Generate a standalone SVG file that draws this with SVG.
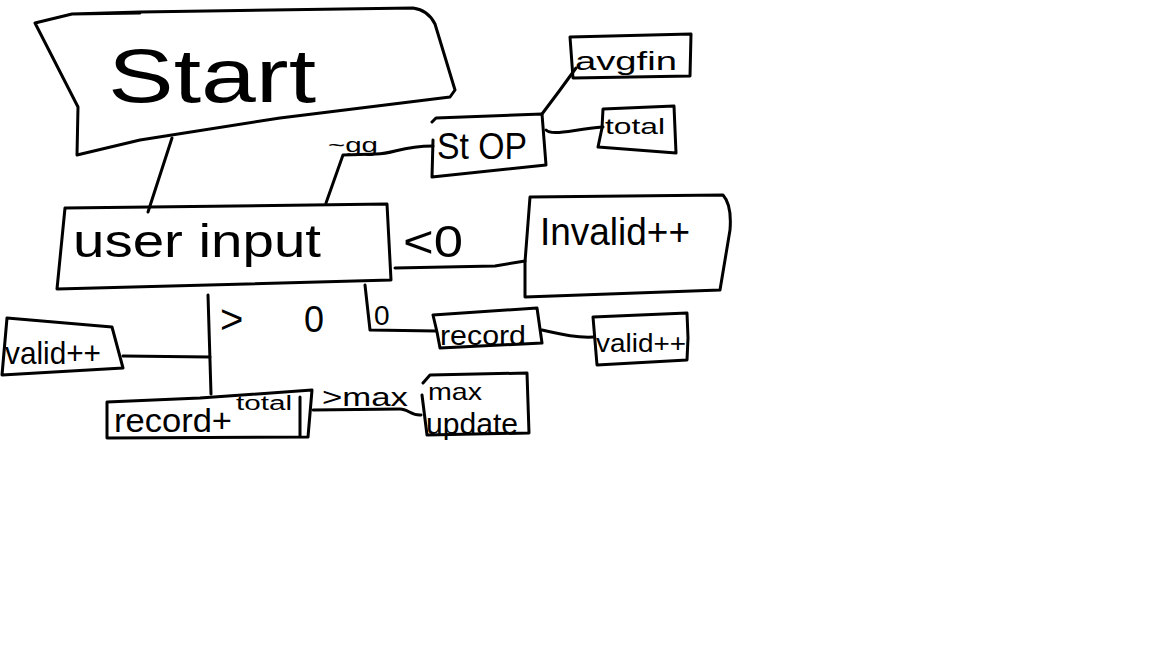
<svg xmlns="http://www.w3.org/2000/svg" width="1152" height="648" viewBox="0 0 1152 648">
<style>
.s{fill:none;stroke:#000;stroke-width:3;stroke-linecap:round;stroke-linejoin:round}
.t{font-family:"Liberation Sans",Arial,sans-serif;fill:#000}
</style>
<rect width="1152" height="648" fill="#fff"/>
<g id="connectors">
<path class="s" d="M172,138 L148,212"/>
<path class="s" d="M326,203 L343,155 L376,154 C395,154 400,146 433,146"/>
<path class="s" d="M542,114 L560,90 L576,68"/>
<path class="s" d="M546,130 C552,136 570,130 603,127"/>
<path class="s" d="M395,268 L495,266 L525,261"/>
<path class="s" d="M365,285 L370,330 L436,331"/>
<path class="s" d="M542,330 C560,334 575,338 594,337"/>
<path class="s" d="M208,295 L211,394"/>
<path class="s" d="M123,356 L210,357"/>
<path class="s" d="M313,410 L400,409 C408,409 412,416 421,415"/>
</g>
<g id="start">
<path class="s" d="M72,14 L140,12 L413,8 Q428,10 435,24 L455,90 L450,97 L280,118 L140,140 L77,155 L78,107 L35,23 L72,14 L140,13"/>
<text class="t" x="108" y="102" font-size="76" textLength="208" lengthAdjust="spacingAndGlyphs">Start</text>
</g>
<g id="user-input">
<path class="s" d="M65,208 L387,204 L391,280 L57,289 Z"/>
<text class="t" x="73" y="257" font-size="46" textLength="248" lengthAdjust="spacingAndGlyphs">user input</text>
</g>
<g id="label-gg">
<text class="t" x="328" y="152" font-size="20" textLength="50" lengthAdjust="spacingAndGlyphs">~gg</text>
</g>
<g id="stop">
<path class="s" d="M432,122 L436,118 L542,114 L546,165 L432,177 L433,140"/>
<text class="t" x="437" y="159" font-size="36" textLength="90" lengthAdjust="spacingAndGlyphs">St OP</text>
</g>
<g id="avgfin">
<path class="s" d="M570,37 L691,34 L690,76 L573,78 Z"/>
<text class="t" x="575" y="70" font-size="26" textLength="102" lengthAdjust="spacingAndGlyphs">avgfin</text>
</g>
<g id="total">
<path class="s" d="M603,109 L674,106 L676,153 L598,147 L602,128 Z"/>
<text class="t" x="605" y="134" font-size="22" textLength="60" lengthAdjust="spacingAndGlyphs">total</text>
</g>
<g id="label-lt0">
<text class="t" x="403" y="257" font-size="44" textLength="60" lengthAdjust="spacingAndGlyphs">&lt;0</text>
</g>
<g id="invalid">
<path class="s" d="M530,197 L723,195 Q732,205 730,230 L720,290 L525,297 L525,262 Z"/>
<text class="t" x="540" y="245" font-size="38" textLength="150" lengthAdjust="spacingAndGlyphs">Invalid++</text>
</g>
<g id="label-0">
<text class="t" x="374" y="325" font-size="28">0</text>
</g>
<g id="record">
<path class="s" d="M433,315 L537,308 L542,343 L440,348 L437,332 Z"/>
<text class="t" x="440" y="345" font-size="28" textLength="86" lengthAdjust="spacingAndGlyphs">record</text>
</g>
<g id="valid-right">
<path class="s" d="M593,317 L687,313 L688,338 L687,360 L597,365 Z"/>
<text class="t" x="596" y="352" font-size="26" textLength="90" lengthAdjust="spacingAndGlyphs">valid++</text>
</g>
<g id="label-gt0">
<text class="t" x="220" y="333" font-size="40">&gt;</text>
<text class="t" x="304" y="332" font-size="36">0</text>
</g>
<g id="valid-left">
<path class="s" d="M7,318 L112,327 L123,368 L2,375 Z"/>
<text class="t" x="5" y="364" font-size="32" textLength="96" lengthAdjust="spacingAndGlyphs">valid++</text>
</g>
<g id="record-total">
<path class="s" d="M107,402 L200,398 L312,390 L308,437 L107,438 Z"/>
<path class="s" d="M300,397 L300,436"/>
<text class="t" x="114" y="432" font-size="34" textLength="118" lengthAdjust="spacingAndGlyphs">record+</text>
<text class="t" x="236" y="410" font-size="20" textLength="56" lengthAdjust="spacingAndGlyphs">total</text>
</g>
<g id="label-max">
<text class="t" x="322" y="406" font-size="26" textLength="86" lengthAdjust="spacingAndGlyphs">&gt;max</text>
</g>
<g id="max-update">
<path class="s" d="M423,383 L430,375 L527,373 L529,433 L427,435 L422,395"/>
<text class="t" x="428" y="400" font-size="24" textLength="54" lengthAdjust="spacingAndGlyphs">max</text>
<text class="t" x="426" y="434" font-size="30" textLength="92" lengthAdjust="spacingAndGlyphs">update</text>
</g>
</svg>
